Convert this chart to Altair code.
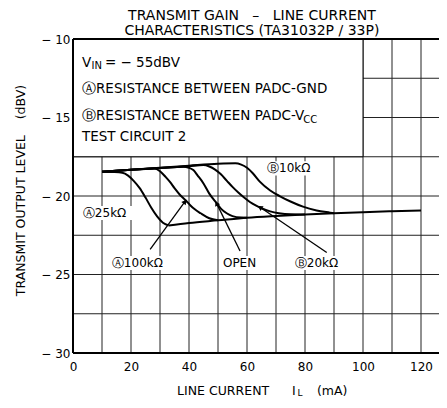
import math
import altair as alt
import pandas as pd

# ---------------- data ----------------
a25_x = [10, 14, 17, 19, 21, 23, 25, 27, 29, 31, 33]
a25_y = [-18.45, -18.47, -18.52, -18.7, -19.05, -19.5, -20.1, -20.75, -21.3, -21.7, -21.88]

a100_x = [10, 20, 28, 30, 32, 33.5, 35, 37, 39, 40.5, 42, 44, 47, 50]
a100_y = [-18.45, -18.33, -18.25, -18.42, -18.8, -19.12, -19.5, -19.95, -20.3, -20.6, -20.85, -21.1, -21.42, -21.55]

open_x = [10, 20, 30, 38, 40, 41.5, 43, 45, 47, 49.5, 51, 53, 55, 58, 60]
open_y = [-18.45, -18.33, -18.22, -18.13, -18.2, -18.35, -18.7, -19.2, -19.85, -20.45, -20.8, -21.1, -21.28, -21.37, -21.38]

b20_x = [10, 20, 30, 40, 45, 47, 49, 51, 53, 55, 57, 59, 61, 63, 65, 68, 71, 75, 80]
b20_y = [-18.45, -18.33, -18.22, -18.1, -18.03, -18.12, -18.32, -18.62, -19.02, -19.42, -19.78, -20.1, -20.38, -20.6, -20.78, -20.98, -21.1, -21.17, -21.18]

b10_x = [10, 20, 30, 40, 50, 56, 58, 60, 62, 64.5, 68, 71.4, 75, 79.3, 84, 88.6, 90]
b10_y = [-18.45, -18.33, -18.2, -18.07, -17.95, -17.92, -18.0, -18.2, -18.55, -19.1, -19.65, -20.02, -20.35, -20.68, -20.92, -21.06, -21.1]

common_x = [33, 40, 50, 60, 70, 80, 90, 100, 110, 120]
common_y = [-21.88, -21.72, -21.55, -21.38, -21.27, -21.18, -21.1, -21.03, -20.97, -20.92]

x_ticks = [0, 20, 40, 60, 80, 100, 120]
y_ticks = [-30, -25, -20, -15, -10]
grid_x = [10, 20, 30, 40, 50, 60, 70, 80, 90, 100, 110, 120]
grid_y = [-27.5, -25, -22.5, -20, -17.5, -15, -12.5]

# condition box (x from, x to, y from, y to)
box = [0, 100, -17.5, -10]

NB = "\u00a0"
# box text lines: text, x, y, font size
box_text = ["V", "IN", "= − 55dBV", "ⒶRESISTANCE BETWEEN PADC-GND",
            "ⒷRESISTANCE BETWEEN PADC-V", "CC", "TEST CIRCUIT 2"]
box_tx = [3.1, 6.4, 11.0, 3.1, 3.1, 79.4, 3.1]
box_ty = [-11.5, -11.75, -11.5, -13.18, -14.9, -15.15, -16.24]
box_ts = [13.5, 10, 13.5, 13.5, 13.5, 10, 13.5]

# curve labels
lab_text = ["Ⓐ25kΩ", "Ⓐ100kΩ", "OPEN", "Ⓑ20kΩ", "Ⓑ10kΩ"]
lab_x = [3.4, 13.4, 51.7, 76.5, 66.9]
lab_y = [-21.08, -24.27, -24.27, -24.27, -18.24]
lab_w = [17.5, 17.8, 12.5, 17.5, 17.5]

# arrows: from label to curve
arr_x1 = [26.6, 57.6, 87.5]
arr_y1 = [-23.4, -23.5, -23.6]
arr_x2 = [38.6, 49.5, 64.5]
arr_y2 = [-20.36, -20.47, -20.72]

# axis title pieces
xt_text = ["LINE CURRENT", "I", "L", "(mA)"]
xt_x = [35.9, 75.5, 77.4, 84.1]
xt_y = [-32.39, -32.39, -32.55, -32.39]
xt_s = [12.5, 12.5, 9, 12.5]

title_lines = ["TRANSMIT GAIN" + NB + NB + " –" + NB + NB + " LINE CURRENT",
               "CHARACTERISTICS (TA31032P / 33P)"]
title_y = [-8.53, -9.49]
title_x = 61.7

# ---------------- chart ----------------
W, H = 366, 314
XD = [0, 366 / 2.9]
YD = [-30, -10]
FONT = "DejaVu Sans"

xs = alt.Scale(domain=XD, nice=False, zero=False)
ys = alt.Scale(domain=YD, nice=False, zero=False)
x_axis = alt.Axis(values=x_ticks, title=None, grid=False, ticks=False, domain=False,
                  labelFont=FONT, labelFontSize=12, labelPadding=8, labelColor="black",
                  labelFlush=False)
y_axis = alt.Axis(values=y_ticks, title="TRANSMIT OUTPUT LEVEL" + NB + NB + NB + " (dBV)",
                  grid=False, ticks=False,
                  domain=False, labelFont=FONT, labelFontSize=12, labelPadding=3,
                  labelColor="black", labelExpr="'− ' + abs(datum.value)",
                  titleFont=FONT, titleFontSize=12.5, titleFontWeight="normal", titleColor="black",
                  titleAngle=270, titleX=-53, titleY=151, titleAlign="center",
                  titleBaseline="middle")


def X(f="x"):
    return alt.X(f + ":Q", scale=xs, axis=x_axis)


def Y(f="y"):
    return alt.Y(f + ":Q", scale=ys, axis=y_axis)


series = []
for name, xx, yy in [("A25k", a25_x, a25_y), ("A100k", a100_x, a100_y), ("OPEN", open_x, open_y),
                     ("B20k", b20_x, b20_y), ("B10k", b10_x, b10_y), ("common", common_x, common_y)]:
    series.append(pd.DataFrame({"x": xx, "y": yy, "s": name}))
curves = pd.concat(series, ignore_index=True)

vgrid = alt.Chart(pd.DataFrame({"x": grid_x})).mark_rule(color="#222", strokeWidth=1).encode(x=X())
hgrid = alt.Chart(pd.DataFrame({"y": grid_y})).mark_rule(color="#222", strokeWidth=1).encode(y=Y())

box_df = pd.DataFrame({"x": [box[0]], "x2": [box[1]], "y": [box[2]], "y2": [box[3]]})
box_layer = alt.Chart(box_df).mark_rect(fill="white", stroke="black", strokeWidth=1).encode(
    x=X(), x2="x2:Q", y=Y(), y2="y2:Q")

bg_df = pd.DataFrame({
    "x": [a - 0.8 for a in lab_x],
    "x2": [a + w + 0.8 for a, w in zip(lab_x, lab_w)],
    "y": [b - 0.45 for b in lab_y],
    "y2": [b + 0.45 for b in lab_y],
})
bg_layer = alt.Chart(bg_df).mark_rect(fill="white", strokeWidth=0).encode(
    x=X(), x2="x2:Q", y=Y(), y2="y2:Q")

line_layer = alt.Chart(curves).mark_line(color="black", strokeWidth=2, interpolate="monotone").encode(
    x=X(), y=Y(), detail="s:N")

arr_df = pd.DataFrame({"x": arr_x1, "y": arr_y1, "x2": arr_x2, "y2": arr_y2})
arrow_layer = alt.Chart(arr_df).mark_rule(color="black", strokeWidth=1.3).encode(
    x=X(), y=Y(), x2="x2:Q", y2="y2:Q")

pxx = W / (XD[1] - XD[0])
pxy = H / (YD[1] - YD[0])
angles = []
for a, b, c, d in zip(arr_x1, arr_y1, arr_x2, arr_y2):
    ang = math.degrees(math.atan2((c - a) * pxx, (d - b) * pxy)) % 360
    angles.append(ang)
head_df = pd.DataFrame({"x": arr_x2, "y": arr_y2, "ang": angles})
head_layer = alt.Chart(head_df).mark_point(shape="triangle-up", filled=True, color="black",
                                           size=30, opacity=1).encode(
    x=X(), y=Y(), angle=alt.Angle("ang:Q", scale=None))

frame_v = alt.Chart(pd.DataFrame({"x": [0]})).mark_rule(color="black", strokeWidth=2).encode(x=X())
frame_h = alt.Chart(pd.DataFrame({"y": [-30, -10]})).mark_rule(color="black", strokeWidth=2).encode(y=Y())

txt_df = pd.concat([
    pd.DataFrame({"t": box_text, "x": box_tx, "y": box_ty, "fs": box_ts}),
    pd.DataFrame({"t": lab_text, "x": lab_x, "y": lab_y, "fs": [12] * len(lab_text)}),
    pd.DataFrame({"t": xt_text, "x": xt_x, "y": xt_y, "fs": xt_s}),
], ignore_index=True)
txt_layer = alt.Chart(txt_df).mark_text(align="left", baseline="middle", font=FONT,
                                        color="black").encode(
    x=X(), y=Y(), text="t:N", size=alt.Size("fs:Q", scale=None))

title_df = pd.DataFrame({"t": title_lines, "x": [title_x] * 2, "y": title_y})
title_layer = alt.Chart(title_df).mark_text(align="center", baseline="middle", font=FONT,
                                            fontSize=14, color="black").encode(
    x=X(), y=Y(), text="t:N")

chart = alt.layer(
    vgrid, hgrid, box_layer, bg_layer, line_layer, arrow_layer, head_layer,
    frame_v, frame_h, txt_layer, title_layer
).properties(
    width=W, height=H,
    padding={"left": 65, "top": 31, "right": 0, "bottom": 47},
    autosize=alt.AutoSizeParams(type="none"),
    background="white",
).configure_view(stroke=None)

chart.save("out.html", embed_options={"renderer": "svg", "actions": False})
